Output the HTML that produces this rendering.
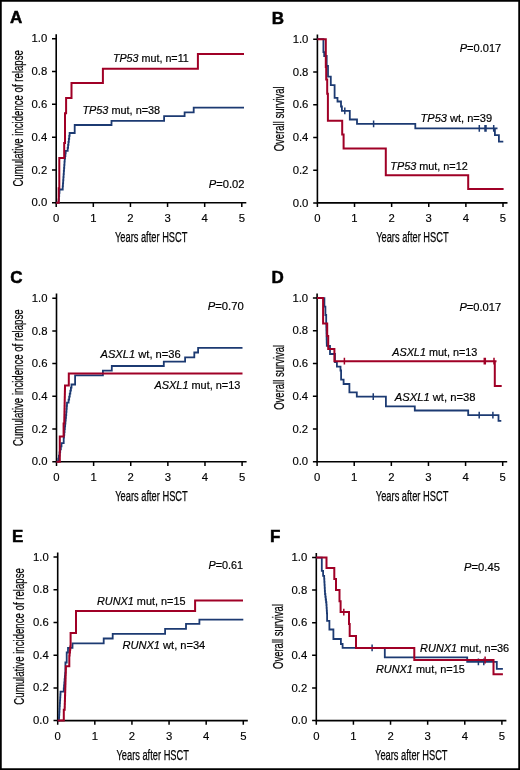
<!DOCTYPE html>
<html><head><meta charset="utf-8"><style>
html,body{margin:0;padding:0;background:#fff;}
body{width:520px;height:770px;overflow:hidden;position:relative;}
svg{position:absolute;left:0;top:0;will-change:transform;}
text{font-family:"Liberation Sans", sans-serif;fill:#000;}
.tk{font-size:11.3px;stroke:#000;stroke-width:0.15px;}
.cd{font-size:14.6px;stroke:#111;stroke-width:0.25px;}
.an{font-size:10.7px;stroke:#000;stroke-width:0.18px;}
.xl{font-size:14px;}
.lt{font-size:17px;font-weight:bold;fill:#000;stroke:#000;stroke-width:0.5px;}
</style></head><body>
<svg width="520" height="770" viewBox="0 0 520 770">
<rect x="0" y="0" width="520" height="770" fill="#fff" stroke="#000" stroke-width="3.5"/>
<path d="M56.2,34.20V202.7H246.30" fill="none" stroke="#000" stroke-width="1.6"/>
<path d="M52.0,38.80H56.2M52.0,71.58H56.2M52.0,104.36H56.2M52.0,137.14H56.2M52.0,169.92H56.2M52.0,202.70H56.2M56.20,202.7V206.90M93.32,202.7V206.90M130.44,202.7V206.90M167.56,202.7V206.90M204.68,202.7V206.90M241.80,202.7V206.90" fill="none" stroke="#000" stroke-width="1.5"/>
<text x="47.2" y="42.40" text-anchor="end" class="tk">1.0</text>
<text x="47.2" y="75.18" text-anchor="end" class="tk">0.8</text>
<text x="47.2" y="107.96" text-anchor="end" class="tk">0.6</text>
<text x="47.2" y="140.74" text-anchor="end" class="tk">0.4</text>
<text x="47.2" y="173.52" text-anchor="end" class="tk">0.2</text>
<text x="47.2" y="206.30" text-anchor="end" class="tk">0.0</text>
<text x="56.20" y="222.10" text-anchor="middle" class="tk">0</text>
<text x="93.32" y="222.10" text-anchor="middle" class="tk">1</text>
<text x="130.44" y="222.10" text-anchor="middle" class="tk">2</text>
<text x="167.56" y="222.10" text-anchor="middle" class="tk">3</text>
<text x="204.68" y="222.10" text-anchor="middle" class="tk">4</text>
<text x="241.80" y="222.10" text-anchor="middle" class="tk">5</text>
<text x="151.2" y="241.6" text-anchor="middle" class="cd xl" textLength="72.5" lengthAdjust="spacingAndGlyphs">Years after HSCT</text>
<text transform="translate(22.8,118.35) rotate(-90)" x="0" y="0" text-anchor="middle" class="cd" textLength="136.5" lengthAdjust="spacingAndGlyphs">Cumulative incidence of relapse</text>
<text x="9.9" y="23.0" class="lt">A</text>
<path d="M317.4,34.60V202.9H507.50" fill="none" stroke="#000" stroke-width="1.6"/>
<path d="M313.2,39.20H317.4M313.2,71.94H317.4M313.2,104.68H317.4M313.2,137.42H317.4M313.2,170.16H317.4M313.2,202.90H317.4M317.40,202.9V207.10M354.52,202.9V207.10M391.64,202.9V207.10M428.76,202.9V207.10M465.88,202.9V207.10M503.00,202.9V207.10" fill="none" stroke="#000" stroke-width="1.5"/>
<text x="308.4" y="42.80" text-anchor="end" class="tk">1.0</text>
<text x="308.4" y="75.54" text-anchor="end" class="tk">0.8</text>
<text x="308.4" y="108.28" text-anchor="end" class="tk">0.6</text>
<text x="308.4" y="141.02" text-anchor="end" class="tk">0.4</text>
<text x="308.4" y="173.76" text-anchor="end" class="tk">0.2</text>
<text x="308.4" y="206.50" text-anchor="end" class="tk">0.0</text>
<text x="317.40" y="222.30" text-anchor="middle" class="tk">0</text>
<text x="354.52" y="222.30" text-anchor="middle" class="tk">1</text>
<text x="391.64" y="222.30" text-anchor="middle" class="tk">2</text>
<text x="428.76" y="222.30" text-anchor="middle" class="tk">3</text>
<text x="465.88" y="222.30" text-anchor="middle" class="tk">4</text>
<text x="503.00" y="222.30" text-anchor="middle" class="tk">5</text>
<text x="412.4" y="241.8" text-anchor="middle" class="cd xl" textLength="72.5" lengthAdjust="spacingAndGlyphs">Years after HSCT</text>
<text transform="translate(283.8,118.8) rotate(-90)" x="0" y="0" text-anchor="middle" class="cd" textLength="65" lengthAdjust="spacingAndGlyphs">Overall survival</text>
<text x="271.8" y="23.6" class="lt">B</text>
<path d="M56.5,293.60V461.7H246.60" fill="none" stroke="#000" stroke-width="1.6"/>
<path d="M52.3,298.20H56.5M52.3,330.90H56.5M52.3,363.60H56.5M52.3,396.30H56.5M52.3,429.00H56.5M52.3,461.70H56.5M56.50,461.7V465.90M93.62,461.7V465.90M130.74,461.7V465.90M167.86,461.7V465.90M204.98,461.7V465.90M242.10,461.7V465.90" fill="none" stroke="#000" stroke-width="1.5"/>
<text x="47.5" y="301.80" text-anchor="end" class="tk">1.0</text>
<text x="47.5" y="334.50" text-anchor="end" class="tk">0.8</text>
<text x="47.5" y="367.20" text-anchor="end" class="tk">0.6</text>
<text x="47.5" y="399.90" text-anchor="end" class="tk">0.4</text>
<text x="47.5" y="432.60" text-anchor="end" class="tk">0.2</text>
<text x="47.5" y="465.30" text-anchor="end" class="tk">0.0</text>
<text x="56.50" y="481.10" text-anchor="middle" class="tk">0</text>
<text x="93.62" y="481.10" text-anchor="middle" class="tk">1</text>
<text x="130.74" y="481.10" text-anchor="middle" class="tk">2</text>
<text x="167.86" y="481.10" text-anchor="middle" class="tk">3</text>
<text x="204.98" y="481.10" text-anchor="middle" class="tk">4</text>
<text x="242.10" y="481.10" text-anchor="middle" class="tk">5</text>
<text x="151.5" y="500.6" text-anchor="middle" class="cd xl" textLength="72.5" lengthAdjust="spacingAndGlyphs">Years after HSCT</text>
<text transform="translate(23.0,377.7) rotate(-90)" x="0" y="0" text-anchor="middle" class="cd" textLength="136.5" lengthAdjust="spacingAndGlyphs">Cumulative incidence of relapse</text>
<text x="10.3" y="282.9" class="lt">C</text>
<path d="M317.1,293.50V461.8H507.20" fill="none" stroke="#000" stroke-width="1.6"/>
<path d="M312.90000000000003,298.10H317.1M312.90000000000003,330.84H317.1M312.90000000000003,363.58H317.1M312.90000000000003,396.32H317.1M312.90000000000003,429.06H317.1M312.90000000000003,461.80H317.1M317.10,461.8V466.00M354.22,461.8V466.00M391.34,461.8V466.00M428.46,461.8V466.00M465.58,461.8V466.00M502.70,461.8V466.00" fill="none" stroke="#000" stroke-width="1.5"/>
<text x="308.1" y="301.70" text-anchor="end" class="tk">1.0</text>
<text x="308.1" y="334.44" text-anchor="end" class="tk">0.8</text>
<text x="308.1" y="367.18" text-anchor="end" class="tk">0.6</text>
<text x="308.1" y="399.92" text-anchor="end" class="tk">0.4</text>
<text x="308.1" y="432.66" text-anchor="end" class="tk">0.2</text>
<text x="308.1" y="465.40" text-anchor="end" class="tk">0.0</text>
<text x="317.10" y="481.20" text-anchor="middle" class="tk">0</text>
<text x="354.22" y="481.20" text-anchor="middle" class="tk">1</text>
<text x="391.34" y="481.20" text-anchor="middle" class="tk">2</text>
<text x="428.46" y="481.20" text-anchor="middle" class="tk">3</text>
<text x="465.58" y="481.20" text-anchor="middle" class="tk">4</text>
<text x="502.70" y="481.20" text-anchor="middle" class="tk">5</text>
<text x="412.1" y="500.7" text-anchor="middle" class="cd xl" textLength="72.5" lengthAdjust="spacingAndGlyphs">Years after HSCT</text>
<text transform="translate(283.8,377.3) rotate(-90)" x="0" y="0" text-anchor="middle" class="cd" textLength="65" lengthAdjust="spacingAndGlyphs">Overall survival</text>
<text x="271.6" y="282.5" class="lt">D</text>
<path d="M57.7,552.40V720.6H247.80" fill="none" stroke="#000" stroke-width="1.6"/>
<path d="M53.5,557.00H57.7M53.5,589.72H57.7M53.5,622.44H57.7M53.5,655.16H57.7M53.5,687.88H57.7M53.5,720.60H57.7M57.70,720.6V724.80M94.82,720.6V724.80M131.94,720.6V724.80M169.06,720.6V724.80M206.18,720.6V724.80M243.30,720.6V724.80" fill="none" stroke="#000" stroke-width="1.5"/>
<text x="48.7" y="560.60" text-anchor="end" class="tk">1.0</text>
<text x="48.7" y="593.32" text-anchor="end" class="tk">0.8</text>
<text x="48.7" y="626.04" text-anchor="end" class="tk">0.6</text>
<text x="48.7" y="658.76" text-anchor="end" class="tk">0.4</text>
<text x="48.7" y="691.48" text-anchor="end" class="tk">0.2</text>
<text x="48.7" y="724.20" text-anchor="end" class="tk">0.0</text>
<text x="57.70" y="740.00" text-anchor="middle" class="tk">0</text>
<text x="94.82" y="740.00" text-anchor="middle" class="tk">1</text>
<text x="131.94" y="740.00" text-anchor="middle" class="tk">2</text>
<text x="169.06" y="740.00" text-anchor="middle" class="tk">3</text>
<text x="206.18" y="740.00" text-anchor="middle" class="tk">4</text>
<text x="243.30" y="740.00" text-anchor="middle" class="tk">5</text>
<text x="152.7" y="759.5" text-anchor="middle" class="cd xl" textLength="72.5" lengthAdjust="spacingAndGlyphs">Years after HSCT</text>
<text transform="translate(24.3,636.4) rotate(-90)" x="0" y="0" text-anchor="middle" class="cd" textLength="136.5" lengthAdjust="spacingAndGlyphs">Cumulative incidence of relapse</text>
<text x="11.9" y="541.9" class="lt">E</text>
<path d="M316.3,552.90V720.6H506.40" fill="none" stroke="#000" stroke-width="1.6"/>
<path d="M312.1,557.50H316.3M312.1,590.12H316.3M312.1,622.74H316.3M312.1,655.36H316.3M312.1,687.98H316.3M312.1,720.60H316.3M316.30,720.6V724.80M353.42,720.6V724.80M390.54,720.6V724.80M427.66,720.6V724.80M464.78,720.6V724.80M501.90,720.6V724.80" fill="none" stroke="#000" stroke-width="1.5"/>
<text x="307.3" y="561.10" text-anchor="end" class="tk">1.0</text>
<text x="307.3" y="593.72" text-anchor="end" class="tk">0.8</text>
<text x="307.3" y="626.34" text-anchor="end" class="tk">0.6</text>
<text x="307.3" y="658.96" text-anchor="end" class="tk">0.4</text>
<text x="307.3" y="691.58" text-anchor="end" class="tk">0.2</text>
<text x="307.3" y="724.20" text-anchor="end" class="tk">0.0</text>
<text x="316.30" y="740.00" text-anchor="middle" class="tk">0</text>
<text x="353.42" y="740.00" text-anchor="middle" class="tk">1</text>
<text x="390.54" y="740.00" text-anchor="middle" class="tk">2</text>
<text x="427.66" y="740.00" text-anchor="middle" class="tk">3</text>
<text x="464.78" y="740.00" text-anchor="middle" class="tk">4</text>
<text x="501.90" y="740.00" text-anchor="middle" class="tk">5</text>
<text x="411.3" y="759.5" text-anchor="middle" class="cd xl" textLength="72.5" lengthAdjust="spacingAndGlyphs">Years after HSCT</text>
<text transform="translate(283.0,636.5) rotate(-90)" x="0" y="0" text-anchor="middle" class="cd" textLength="65" lengthAdjust="spacingAndGlyphs">Overall survival</text>
<text x="270.0" y="541.9" class="lt">F</text>
<path d="M56.2,202.7H58.3H58.60V199.40H58.90V196.10H59.20V192.80H59.50V189.50H62.5H62.72V186.41H62.94V183.32H63.16V180.23H63.38V177.14H63.60V174.05H63.82V170.96H64.04V167.87H64.26V164.78H64.48V161.69H64.70V158.60H65.03V156.00H65.37V153.40H65.70V150.80H67.3H67.68V147.83H68.07V144.87H68.45V141.90H68.83V138.93H69.22V135.97H69.60V133.00H74.7V125.0H111.5V120.9H164.1V116.2H184.6V112.3H193.7V107.6H244.0" fill="none" stroke="#1C3A72" stroke-width="1.8" stroke-linejoin="miter" stroke-linecap="butt"/>
<path d="M56.2,202.7H58.7V188.2H59.3V158.0H64.2V143.0H65.0V113.2H66.1V98.0H71.5V83.0H102.9V68.85H197.9V54.0H244.0" fill="none" stroke="#A00026" stroke-width="2.0" stroke-linejoin="miter" stroke-linecap="butt"/>
<path d="M317.4,39.2H323.4V52.2H324.2V56.0H326.70V56.00V65.8H328.0V76.7H330.8V85.2H334.6V97.9H337.5V101.5H341.0V106.5H341.9V110.9H349.8V119.5H357.0V123.8H415.3V128.3H494.9V135.2H498.9V141.7H503.3M494.9,128.3H497.5" fill="none" stroke="#1C3A72" stroke-width="1.8" stroke-linejoin="miter" stroke-linecap="butt"/>
<path d="M344.8,107.5V114.30000000000001M373.6,120.39999999999999V127.2M479.3,124.9V131.70000000000002M485.0,124.9V131.70000000000002M486.0,124.9V131.70000000000002M493.7,124.9V131.70000000000002" fill="none" stroke="#1C3A72" stroke-width="1.5"/>
<path d="M317.4,39.2H325.8V67.0H326.2V79.6H327.2V93.8H327.9V120.8H342.2V134.6H343.6V148.4H385.8V175.2H468.2V189.0H503.6" fill="none" stroke="#A00026" stroke-width="2.0" stroke-linejoin="miter" stroke-linecap="butt"/>
<path d="M56.5,461.7H57.6H58.25V458.62H58.90V455.53H59.55V452.45H60.20V449.37H60.85V446.28H61.50V443.20H63.7V437.7H63.99V434.86H64.28V432.02H64.56V429.19H64.85V426.35H65.14V423.51H65.42V420.68H65.71V417.84H66.00V415.00H66.25V411.93H66.50V408.85H66.75V405.77H67.00V402.70H68.0H68.58V399.67H69.17V396.63H69.75V393.60H70.33V390.57H70.92V387.53H71.50V384.50H75.1V375.3H102.9V370.7H111.8V366.0H163.8V361.6H185.1V357.3H194.3V352.5H198.1V347.8H242.5" fill="none" stroke="#1C3A72" stroke-width="1.8" stroke-linejoin="miter" stroke-linecap="butt"/>
<path d="M56.5,461.7H59.8V436.4H63.6V423.4H64.2H64.26V420.49H64.32V417.58H64.38V414.68H64.45V411.77H64.51V408.86H64.57V405.95H64.63V403.05H64.69V400.14H64.75V397.23H64.82V394.32H64.88V391.42H64.94V388.51H65.00V385.60H68.8V373.6H242.5" fill="none" stroke="#A00026" stroke-width="2.0" stroke-linejoin="miter" stroke-linecap="butt"/>
<path d="M317.1,298.1H324.4V306.7H325.4V315.0H326.2V323.6H326.29V326.77H326.37V329.94H326.46V333.11H326.54V336.29H326.63V339.46H326.71V342.63H326.80V345.80H330.0V354.0H335.0V362.0H336.9V366.6H340.5V370.5H341.1V379.6H343.6V384.0H349.4V392.4H356.8V396.7H385.9V406.3H414.8V410.5H468.2V415.1H498.5V420.9H501.3" fill="none" stroke="#1C3A72" stroke-width="1.8" stroke-linejoin="miter" stroke-linecap="butt"/>
<path d="M373.25,393.3V400.09999999999997M479.2,411.70000000000005V418.5M492.9,411.70000000000005V418.5" fill="none" stroke="#1C3A72" stroke-width="1.5"/>
<path d="M317.1,298.1H323.1V323.6H327.2V335.9H328.2V348.9H334.4V361.2H494.8V385.9H501.7M494.8,361.2H496.5" fill="none" stroke="#A00026" stroke-width="2.0" stroke-linejoin="miter" stroke-linecap="butt"/>
<path d="M344.4,357.8V364.59999999999997M484.3,357.8V364.59999999999997M485.3,357.8V364.59999999999997M494.0,357.8V364.59999999999997" fill="none" stroke="#A00026" stroke-width="1.5"/>
<path d="M57.7,720.6H58.8H58.97V717.70H59.14V714.80H59.31V711.90H59.48V709.00H59.65V706.10H59.82V703.20H59.99V700.30H60.16V697.40H60.33V694.50H60.50V691.60H63.5H63.77V688.51H64.04V685.43H64.31V682.34H64.59V679.26H64.86V676.17H65.13V673.09H65.40V670.00V662.5H66.7V652.5H68.0V647.9H72.5V643.3H103.7V638.5H112.7V633.8H165.1V628.8H186.0V623.8H199.4V619.6H243.3" fill="none" stroke="#1C3A72" stroke-width="1.8" stroke-linejoin="miter" stroke-linecap="butt"/>
<path d="M57.7,720.6H63.8V709.8H64.6H64.69V706.89H64.77V703.99H64.86V701.08H64.95V698.17H65.03V695.27H65.12V692.36H65.21V689.45H65.29V686.55H65.38V683.64H65.47V680.73H65.55V677.83H65.64V674.92H65.73V672.01H65.81V669.11H65.90V666.20H69.3V655.4H69.62V652.40H69.95V649.40H70.27V646.40H70.60V643.40V632.9H76.0V611.1H195.1V600.6H243.0" fill="none" stroke="#A00026" stroke-width="2.0" stroke-linejoin="miter" stroke-linecap="butt"/>
<path d="M316.3,557.6H321.8V570.9H323.1V575.8H324.0H324.17V578.83H324.33V581.87H324.50V584.90H324.67V587.93H324.83V590.97H325.00V594.00H325.35V596.75H325.70V599.50H326.05V602.25H326.40V605.00H326.57V607.80H326.75V610.60H326.93V613.40H327.10V616.20V620.8H329.4V629.5H333.4V639.0H340.9V644.0H342.6V647.9H384.8V657.3H467.2V661.8H496.8V668.9H502.9" fill="none" stroke="#1C3A72" stroke-width="1.8" stroke-linejoin="miter" stroke-linecap="butt"/>
<path d="M372.1,644.5V651.3M478.4,658.4V665.1999999999999M483.8,658.4V665.1999999999999" fill="none" stroke="#1C3A72" stroke-width="1.5"/>
<path d="M316.3,557.6H326.5V568.0H334.3V579.0H336.0V590.0H339.5V601.3H340.6V612.1H349.0V624.0H349.7V635.9H356.0V647.9H414.3V660.0H493.5V674.3H502.9" fill="none" stroke="#A00026" stroke-width="2.0" stroke-linejoin="miter" stroke-linecap="butt"/>
<path d="M343.8,608.7V615.5M485.1,656.6V663.4" fill="none" stroke="#A00026" stroke-width="1.5"/>
<text x="112.9" y="61.7" class="an" textLength="75.89999999999999" lengthAdjust="spacingAndGlyphs"><tspan font-style="italic">TP53</tspan> mut, n=11</text>
<text x="82.4" y="114.4" class="an" textLength="77.8" lengthAdjust="spacingAndGlyphs"><tspan font-style="italic">TP53</tspan> mut, n=38</text>
<text x="420.5" y="121.6" class="an" textLength="71.6" lengthAdjust="spacingAndGlyphs"><tspan font-style="italic">TP53</tspan> wt, n=39</text>
<text x="390.3" y="169.6" class="an" textLength="77.5" lengthAdjust="spacingAndGlyphs"><tspan font-style="italic">TP53</tspan> mut, n=12</text>
<text x="100.5" y="357.8" class="an" textLength="80.19999999999999" lengthAdjust="spacingAndGlyphs"><tspan font-style="italic">ASXL1</tspan> wt, n=36</text>
<text x="154.5" y="389.2" class="an" textLength="85.8" lengthAdjust="spacingAndGlyphs"><tspan font-style="italic">ASXL1</tspan> mut, n=13</text>
<text x="392.2" y="356.3" class="an" textLength="85.19999999999999" lengthAdjust="spacingAndGlyphs"><tspan font-style="italic">ASXL1</tspan> mut, n=13</text>
<text x="394.7" y="401.3" class="an" textLength="80.8" lengthAdjust="spacingAndGlyphs"><tspan font-style="italic">ASXL1</tspan> wt, n=38</text>
<text x="97.0" y="605.0" class="an" textLength="88.5" lengthAdjust="spacingAndGlyphs"><tspan font-style="italic">RUNX1</tspan> mut, n=15</text>
<text x="122.4" y="648.5" class="an" textLength="82.89999999999999" lengthAdjust="spacingAndGlyphs"><tspan font-style="italic">RUNX1</tspan> wt, n=34</text>
<text x="420.09999999999997" y="651.6" class="an" textLength="89.1" lengthAdjust="spacingAndGlyphs"><tspan font-style="italic">RUNX1</tspan> mut, n=36</text>
<text x="375.9" y="673.1" class="an" textLength="89.0" lengthAdjust="spacingAndGlyphs"><tspan font-style="italic">RUNX1</tspan> mut, n=15</text>
<text x="208.8" y="187.5" class="an" textLength="35.7" lengthAdjust="spacingAndGlyphs"><tspan font-style="italic">P</tspan>=0.02</text>
<text x="459.7" y="52.4" class="an" textLength="41.5" lengthAdjust="spacingAndGlyphs"><tspan font-style="italic">P</tspan>=0.017</text>
<text x="207.7" y="309.5" class="an" textLength="36.0" lengthAdjust="spacingAndGlyphs"><tspan font-style="italic">P</tspan>=0.70</text>
<text x="459.4" y="311.4" class="an" textLength="41.8" lengthAdjust="spacingAndGlyphs"><tspan font-style="italic">P</tspan>=0.017</text>
<text x="208.5" y="568.5" class="an" textLength="34.6" lengthAdjust="spacingAndGlyphs"><tspan font-style="italic">P</tspan>=0.61</text>
<text x="464.0" y="570.5" class="an" textLength="35.9" lengthAdjust="spacingAndGlyphs"><tspan font-style="italic">P</tspan>=0.45</text>
</svg>
</body></html>
